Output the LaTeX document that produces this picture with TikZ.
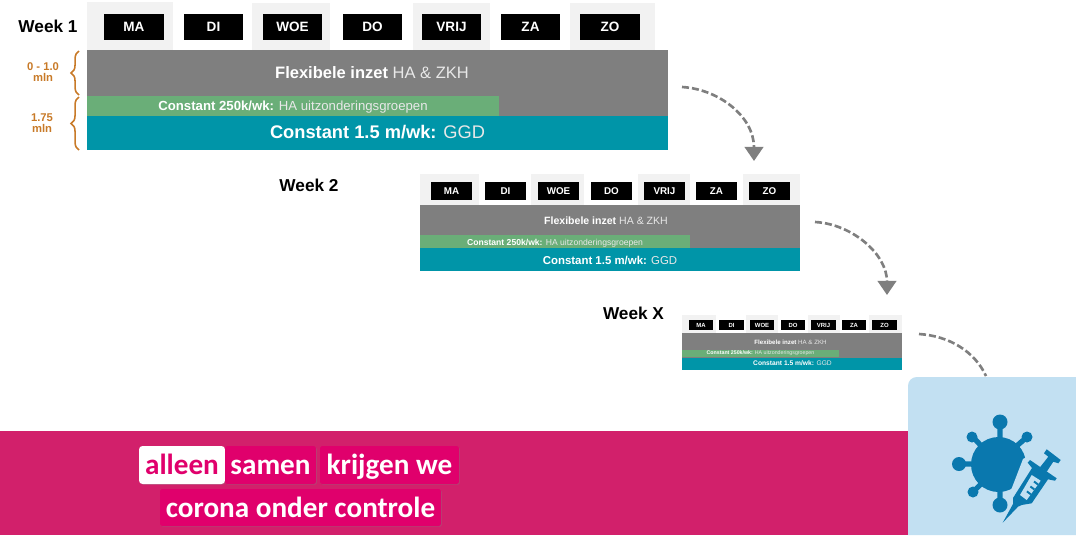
\documentclass[tikz,border=0pt]{standalone}
\usepackage{fontspec}
\setmainfont{Liberation Sans}
\newfontfamily\campaignfont{Carlito}
\usetikzlibrary{arrows.meta,decorations.pathreplacing,shadows}

\definecolor{flexgrey}{HTML}{7F7F7F}
\definecolor{cellgrey}{HTML}{F2F2F2}
\definecolor{hagreen}{HTML}{6AAE78}
\definecolor{ggdteal}{HTML}{0095A8}
\definecolor{braceorange}{HTML}{C87A28}
\definecolor{bandpink}{HTML}{D2206B}
\definecolor{tagpink}{HTML}{E0006C}
\definecolor{panelblue}{HTML}{C2E0F2}
\definecolor{virusblue}{HTML}{0A78AE}
\definecolor{softwhite}{HTML}{E8E8E8}

\newcommand{\fs}[1]{\fontsize{#1}{#1}\selectfont}

\tikzset{
  weeklabel/.style={inner sep=0pt, font=\fs{9.8}\bfseries},
  dayone/.style={fill=black, text=white, inner sep=0pt, minimum width=1.2cm, minimum height=.52cm, font=\fs{7.7}\bfseries},
  daytwo/.style={fill=black, text=white, inner sep=0pt, minimum width=.82cm, minimum height=.35cm, font=\fs{5.6}\bfseries},
  dayx/.style={fill=black, text=white, inner sep=0pt, minimum width=.49cm, minimum height=.2cm, font=\fs{3.4}\bfseries},
  barlabel/.style={inner sep=0pt, text=softwhite},
  amount/.style={inner sep=0pt, text=braceorange, align=center, font=\fs{6.4}\bfseries},
  amountbrace/.style={draw=braceorange, line width=.9pt, decorate, decoration={brace, amplitude=4.5pt}},
  flow/.style={draw=flexgrey, line width=1.5pt, dash pattern=on 4pt off 1.7pt},
  flowtip/.style={-{Triangle[width=10.5pt, length=8pt]}, flexgrey},
  tag/.style={fill=tagpink, text=white, inner sep=0pt, rounded corners=1pt, minimum height=.76cm,
    text height=12pt, text depth=1pt, drop shadow={shadow xshift=.5pt, shadow yshift=-.5pt, opacity=.3},
    font=\campaignfont\fs{16.6}\bfseries},
}

\begin{document}
\begin{tikzpicture}[x=.02cm, y=-.02cm]
  \useasboundingbox (0,0) rectangle (1076,535);

  % week 1
  \fill[cellgrey] (87,2) rectangle (173,50);
  \fill[cellgrey] (252,3) rectangle (330,50);
  \fill[cellgrey] (413,3) rectangle (490,50);
  \fill[cellgrey] (570,3) rectangle (655,50);
  \node[weeklabel] (weekone) at (48,26) {Week 1};
  \node[dayone] (onema) at (134,27) {MA};
  \node[dayone] (onedi) at (213.5,27) {DI};
  \node[dayone] (onewoe) at (292.5,27) {WOE};
  \node[dayone] (onedo) at (372.5,27) {DO};
  \node[dayone] (onevrij) at (451.5,27) {VRIJ};
  \node[dayone] (oneza) at (530.5,27) {ZA};
  \node[dayone] (onezo) at (610,27) {ZO};
  \fill[flexgrey] (87,50) rectangle (668,117);
  \fill[hagreen] (87,96) rectangle (499,115.5);
  \fill[ggdteal] (87,116) rectangle (668,150);
  \node[barlabel, font=\fs{9.4}] (oneflex) at (372,73) {\textcolor{white}{\textbf{Flexibele inzet}} HA \& ZKH};
  \node[barlabel, font=\fs{7.5}] (onegreen) at (293,107) {\textcolor{white}{\textbf{Constant 250k/wk:}} HA uitzonderingsgroepen};
  \node[barlabel, font=\fs{10.4}] (oneteal) at (377.5,132.5) {\textcolor{white}{\textbf{Constant 1.5 m/wk:}} GGD};
  \draw[amountbrace] (79,95) -- (79,51);
  \draw[amountbrace] (79,150) -- (79,97);
  \node[amount] (oneflexmln) at (43,72) {0 - 1.0\\mln};
  \node[amount] (oneconstmln) at (42,123) {1.75\\mln};

  % week 2
  \fill[cellgrey] (420,174) rectangle (479,205);
  \fill[cellgrey] (531,174) rectangle (584,205);
  \fill[cellgrey] (638,174) rectangle (690,205);
  \fill[cellgrey] (743,174) rectangle (800,205);
  \node[weeklabel] (weektwo) at (309,185) {Week 2};
  \node[daytwo] (twoma) at (451.5,191) {MA};
  \node[daytwo] (twodi) at (505.5,191) {DI};
  \node[daytwo] (twowoe) at (558.5,191) {WOE};
  \node[daytwo] (twodo) at (611.5,191) {DO};
  \node[daytwo] (twovrij) at (664.5,191) {VRIJ};
  \node[daytwo] (twoza) at (716.5,191) {ZA};
  \node[daytwo] (twozo) at (769.5,191) {ZO};
  \fill[flexgrey] (420,205) rectangle (800,248.5);
  \fill[hagreen] (420,235) rectangle (690,248);
  \fill[ggdteal] (420,248) rectangle (800,271);
  \node[barlabel, font=\fs{6}] (twoflex) at (606,221) {\textcolor{white}{\textbf{Flexibele inzet}} HA \& ZKH};
  \node[barlabel, font=\fs{4.9}] (twogreen) at (555,243) {\textcolor{white}{\textbf{Constant 250k/wk:}} HA uitzonderingsgroepen};
  \node[barlabel, font=\fs{6.5}] (twoteal) at (610,260) {\textcolor{white}{\textbf{Constant 1.5 m/wk:}} GGD};

  % week x
  \fill[cellgrey] (682,315) rectangle (716,333);
  \fill[cellgrey] (746,315) rectangle (778,333);
  \fill[cellgrey] (808,315) rectangle (840,333);
  \fill[cellgrey] (869,315) rectangle (902,333);
  \node[weeklabel] (weekx) at (633.5,313) {Week X};
  \node[dayx] (xma) at (701,325) {MA};
  \node[dayx] (xdi) at (731.5,325) {DI};
  \node[dayx] (xwoe) at (762,325) {WOE};
  \node[dayx] (xdo) at (793,325) {DO};
  \node[dayx] (xvrij) at (823.5,325) {VRIJ};
  \node[dayx] (xza) at (854,325) {ZA};
  \node[dayx] (xzo) at (884.5,325) {ZO};
  \fill[flexgrey] (682,333) rectangle (902,358);
  \fill[hagreen] (682,350) rectangle (839,357);
  \fill[ggdteal] (682,357.5) rectangle (902,369.5);
  \node[barlabel, font=\fs{3.5}] (xflex) at (790.5,342) {\textcolor{white}{\textbf{Flexibele inzet}} HA \& ZKH};
  \node[barlabel, font=\fs{3}] (xgreen) at (760.5,353.5) {\textcolor{white}{\textbf{Constant 250k/wk:}} HA uitzonderingsgroepen};
  \node[barlabel, font=\fs{3.8}] (xteal) at (792.5,363.5) {\textcolor{white}{\textbf{Constant 1.5 m/wk:}} GGD};

  % arrows between the weeks
  \coordinate (flowonestart) at (682,87);
  \coordinate (flowoneend) at (754,161);
  \coordinate (flowtwostart) at (815,222);
  \coordinate (flowtwoend) at (887,295);
  \coordinate (flowxstart) at (919,334);
  \coordinate (flowxend) at (986,376);
  \draw[flow, flowtip] (flowonestart) .. controls (718,89) and (754,116) .. (flowoneend);
  \draw[flow, flowtip] (flowtwostart) .. controls (852,224) and (887,254) .. (flowtwoend);
  \draw[flow] (flowxstart) .. controls (950,336) and (975,352) .. (flowxend);

  % campaign band
  \fill[bandpink] (0,431) rectangle (908,535);
  \node[tag, fill=white, text=tagpink, minimum width=1.72cm, rounded corners=2pt] (tagalleen) at (182,465) {alleen};
  \node[tag, minimum width=1.82cm] (tagsamen) at (270.5,465) {samen};
  \node[tag, minimum width=2.78cm] (tagkrijgen) at (389.5,465) {krijgen we};
  \node[tag, minimum width=5.62cm, minimum height=.74cm] (tagcorona) at (300.5,507.5) {corona onder controle};

  % vaccine panel
  \fill[panelblue] (1076,535) -- (908,535) [rounded corners=5pt] -- (908,377) [sharp corners] -- (1076,377) -- cycle;
  \fill[virusblue] (998.5,464.5) circle (27.5);
  \draw[virusblue, line width=3pt] (1000,422) -- (1000,506) (958,464) -- (985,464) (973,437) -- (985,450) (1027,437) -- (1012,450) (973,492) -- (985,480);
  \fill[virusblue] (1000,422) circle (7.5) (1000,505) circle (7.5) (959,464) circle (7);
  \fill[virusblue] (972,437) circle (5.5) (1027,437) circle (5.5) (973,492) circle (5.5);
  % syringe with a pale edge over the virus
  \fill[panelblue] (1023,459) -- (1030,455) -- (1060,478) -- (1034,508) -- (1012,510) -- (1008,498) -- cycle;
  \fill[virusblue] (1027.7,462.7) -- (1030,460) -- (1056.7,478.3) -- (1055,480.7) -- (1048,479.3) -- (1031.7,503.3) -- (1021.7,505) -- (1018,506.7) -- (1002.7,522.7) -- (1013,504) -- (1013,498) -- (1032,468) -- cycle;
  \fill[virusblue] (1040,467.3) -- (1048.3,456.7) -- (1044,453.3) -- (1046.7,449.3) -- (1060.7,460) -- (1058.3,463.3) -- (1053.3,461.7) -- (1046.7,471.7) -- cycle;
  \fill[panelblue] (1031.7,475) -- (1040.7,480.7) -- (1026.7,500) -- (1020,495) -- cycle;
  \draw[virusblue, line width=1.1pt] (1038,484.5) -- (1034,481.5) (1034.4,489.5) -- (1030.4,486.5) (1030.9,494.4) -- (1026.9,491.4);
\end{tikzpicture}
\end{document}
